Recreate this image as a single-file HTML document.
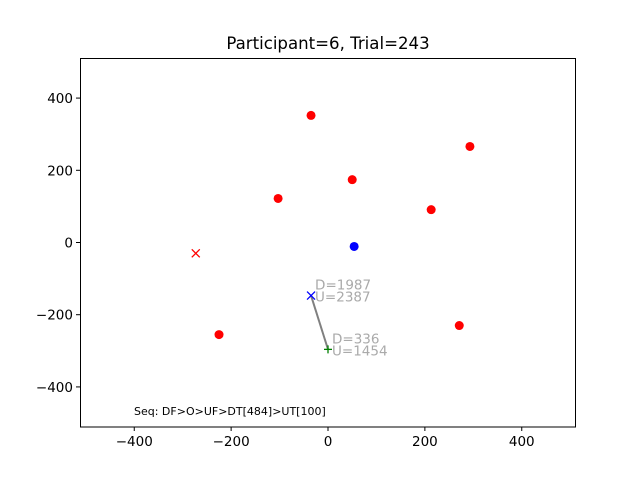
<!DOCTYPE html>
<html><head><meta charset="utf-8"><style>
body{margin:0;background:#fff;}
svg{display:block;font-family:"DejaVu Sans","Liberation Sans",sans-serif;}
</style></head><body>
<svg id="chart" width="640" height="480" viewBox="0 0 640 480">
<rect width="640" height="480" fill="#fff"/>
<text x="328" y="49" text-anchor="middle" font-size="16.6">Participant=6, Trial=243</text>
<g id="xticks"></g>
<g id="yticks"></g>
<g id="marks"></g>
<rect x="80.5" y="58.5" width="495" height="368.5" fill="none" stroke="#000" stroke-width="1"/>
<text x="134" y="415" font-size="11">Seq: DF&gt;O&gt;UF&gt;DT[484]&gt;UT[100]</text>
</svg>
<script>
const xTicks=[-400,-200,0,200,400];
const yTicks=[-400,-200,0,200,400];
const redX=[-35,293,50,-103,213,271,-225];
const redY=[352,266,174,122,91,-230,-255];
const blueDot=[54,-11];
const redCross=[-273,-30];
const blueCross=[-35,-147];
const greenPlus=[0,-296];
const label1=["D=1987","U=2387"];
const label2=["D=336","U=1454"];
const X0=80,X1=576,Y0=58,Y1=427,XMIN=-512,XMAX=512,YMIN=-511,YMAX=511;
const sx=v=>X0+(v-XMIN)/(XMAX-XMIN)*(X1-X0);
const sy=v=>Y1-(v-YMIN)/(YMAX-YMIN)*(Y1-Y0);
const NS="http://www.w3.org/2000/svg";
function mk(t,a,p){const e=document.createElementNS(NS,t);for(const k in a)e.setAttribute(k,a[k]);p.appendChild(e);return e;}
const gx=document.getElementById('xticks'),gy=document.getElementById('yticks'),gm=document.getElementById('marks');
xTicks.forEach(v=>{const x=sx(v);
 const l=mk('line',{x1:x,x2:x,y1:427,y2:431,stroke:'#000'},gx);
 
 
 const t=mk('text',{x:x,y:446,'text-anchor':'middle','font-size':13.5},gx);t.textContent=v<0?'\u2212'+(-v):v;
 
 });
yTicks.forEach(v=>{const y=sy(v);
 const l=mk('line',{x1:76,x2:80,y1:y,y2:y,stroke:'#000'},gy);
 
 
 const t=mk('text',{x:73,y:y+5,'text-anchor':'end','font-size':13.5},gy);t.textContent=v<0?'\u2212'+(-v):v;
 
 });
const ln=mk('line',{x1:sx(blueCross[0]),y1:sy(blueCross[1]),x2:sx(greenPlus[0]),y2:sy(greenPlus[1]),stroke:'#808080','stroke-width':2},gm);


redX.forEach((v,i)=>{const c=mk('circle',{cx:sx(v),cy:sy(redY[i]),r:4.5,fill:'#ff0000'},gm);
 
 });
const bd=mk('circle',{cx:sx(blueDot[0]),cy:sy(blueDot[1]),r:4.5,fill:'#0000ff'},gm);


function cross(p,col,name){const x=sx(p[0]),y=sy(p[1]),g=mk('g',{stroke:col,'stroke-width':1.3},gm);
 mk('line',{x1:x-4,y1:y-4,x2:x+4,y2:y+4},g);mk('line',{x1:x-4,y1:y+4,x2:x+4,y2:y-4},g);
 
 }
cross(redCross,'#ff0000','red-cross');
cross(blueCross,'#0000ff','blue-cross');
(function(){const x=sx(greenPlus[0]),y=sy(greenPlus[1]),g=mk('g',{stroke:'#008000','stroke-width':1.3},gm);
 mk('line',{x1:x-4,y1:y,x2:x+4,y2:y},g);mk('line',{x1:x,y1:y-4,x2:x,y2:y+4},g);
 
 })();
function lbl(p,arr,name){arr.forEach((s,i)=>{const t=mk('text',{x:sx(p[0])+4,y:sy(p[1])-6+i*12,'font-size':13.5,fill:'#aaaaaa'},gm);t.textContent=s;
 
 });}
lbl(blueCross,label1,'blue-cross-label');
lbl(greenPlus,label2,'green-plus-label');
</script>
</body></html>
